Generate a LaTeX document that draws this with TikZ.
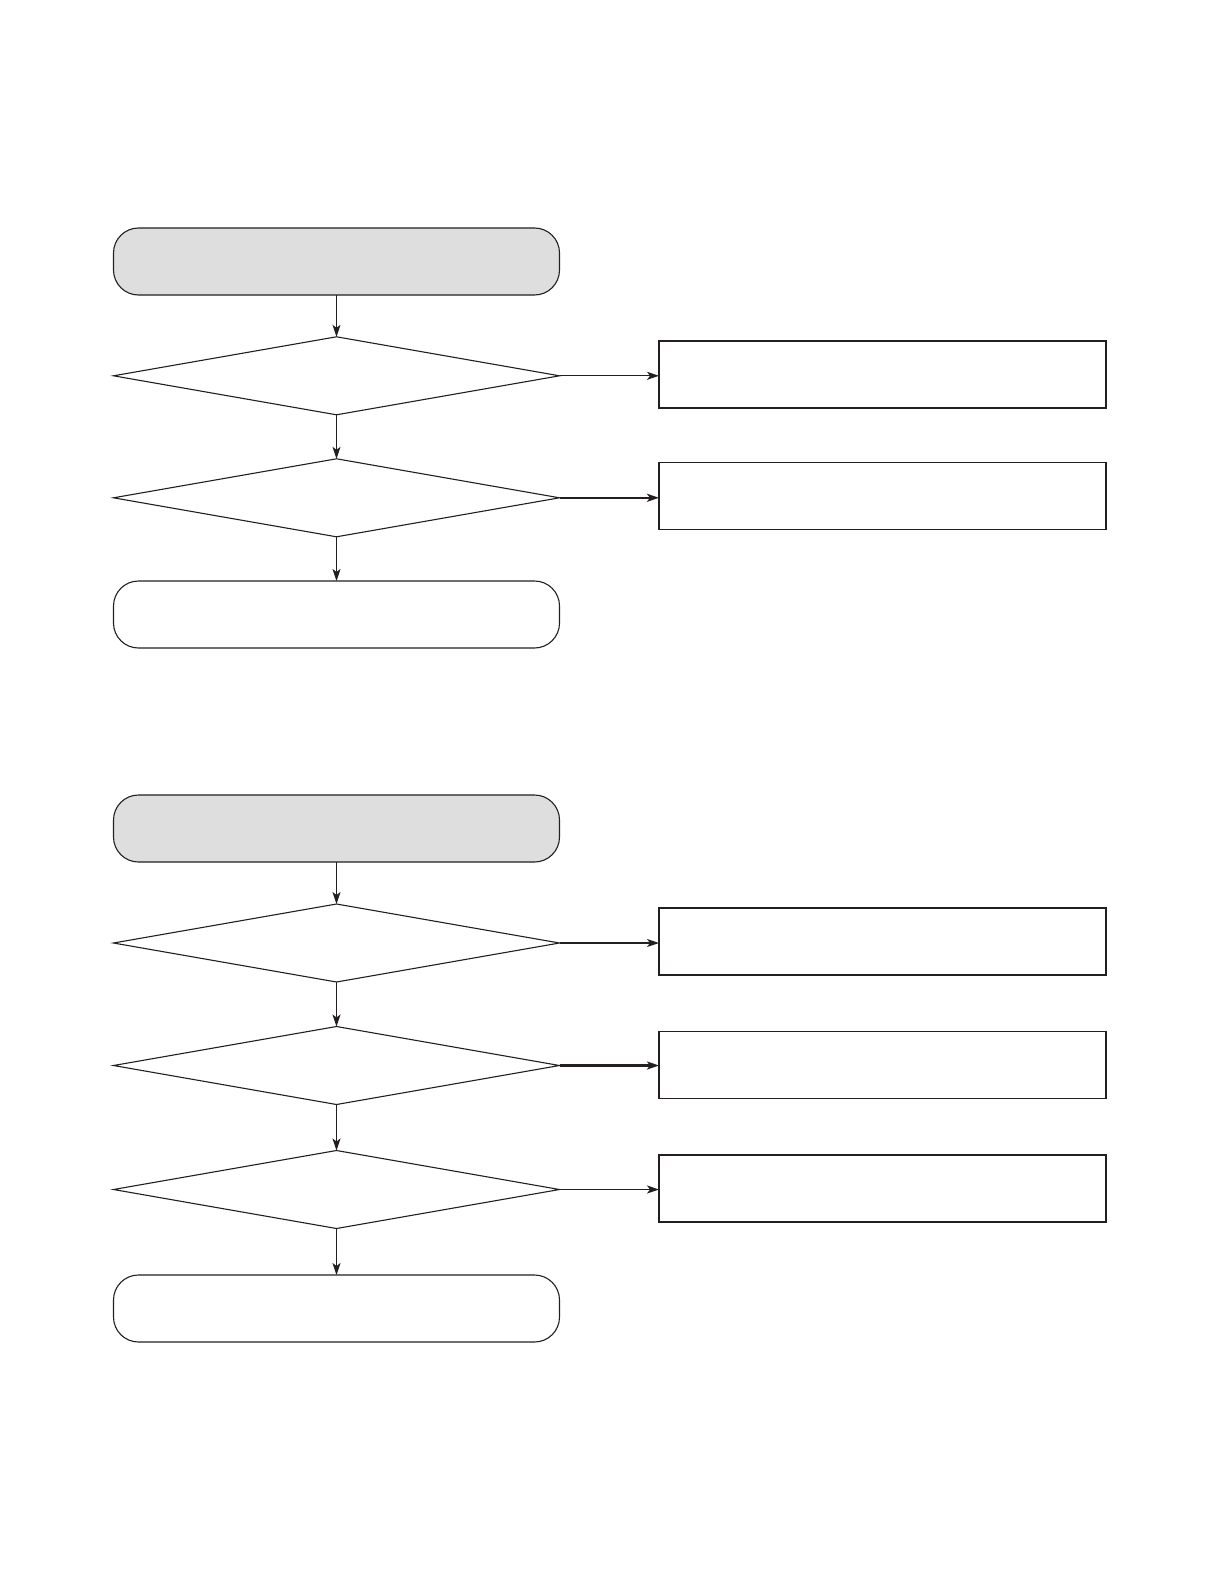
\documentclass[tikz,border=0pt]{standalone}
\usepackage{xcolor}
\usepackage{tikz}
\usetikzlibrary{shapes.geometric, arrows.meta}
\definecolor{linegray}{HTML}{231F20}
\definecolor{headgray}{HTML}{DEDEDE}

\begin{document}
\begin{tikzpicture}[x=1pt, y=-1pt,
          termbox/.style={rectangle, rounded corners=25pt, draw=linegray,
                          line width=1.1pt, minimum width=446pt,
                          minimum height=67pt, inner sep=0pt, outer sep=0pt},
          headbox/.style={termbox, fill=headgray},
          decide/.style={diamond, draw=linegray, line width=1.1pt,
                         minimum width=446pt, minimum height=78pt,
                         inner sep=0pt, outer sep=0pt},
          actbox/.style={rectangle, draw=linegray, line width=1.1pt,
                         minimum width=447pt, minimum height=67pt,
                         inner sep=0pt, outer sep=0pt},
          arr/.style={-{Stealth[length=12pt, width=8pt, inset=3pt]},
                      line width=1.2pt, linegray},
          arrbold/.style={arr, line width=2.2pt}
        ]
        \useasboundingbox (0,0) rectangle (1219,1587);
        %% First chart
        \node[headbox] (start1) at (336.5,261.5) {};
        \node[decide] (dec1) at (336.5,375.8) {};
        \node[decide] (dec2) at (336.5,497.8) {};
        \node[termbox] (end1) at (336.5,614.5) {};
        \node[actbox] (act1) at (882.5,374.5) {};
        \node[actbox] (act2) at (882.5,496) {};
        %% Second chart
        \node[headbox] (start2) at (336.5,828.5) {};
        \node[decide] (dec3) at (336.5,943) {};
        \node[decide] (dec4) at (336.5,1065.5) {};
        \node[decide] (dec5) at (336.5,1189.5) {};
        \node[termbox] (end2) at (336.5,1308.5) {};
        \node[actbox] (act3) at (882.5,941.5) {};
        \node[actbox] (act4) at (882.5,1065) {};
        \node[actbox] (act5) at (882.5,1188.5) {};
        %% Down the left column
        \draw[arr] (start1) -- (dec1);
        \draw[arr] (dec1) -- (dec2);
        \draw[arr] (dec2) -- (end1);
        \draw[arr] (start2) -- (dec3);
        \draw[arr] (dec3) -- (dec4);
        \draw[arr] (dec4) -- (dec5);
        \draw[arr] (dec5) -- (end2);
        %% Out to the right
        \draw[arr] (dec1.east) -- (dec1.east -| act1.west);
        \draw[arrbold] (dec2.east) -- (dec2.east -| act2.west);
        \draw[arr] (dec3.east) -- (dec3.east -| act3.west);
        \draw[arrbold] (dec4.east) -- (dec4.east -| act4.west);
        \draw[arr] (dec5.east) -- (dec5.east -| act5.west);
      \end{tikzpicture}
\end{document}
